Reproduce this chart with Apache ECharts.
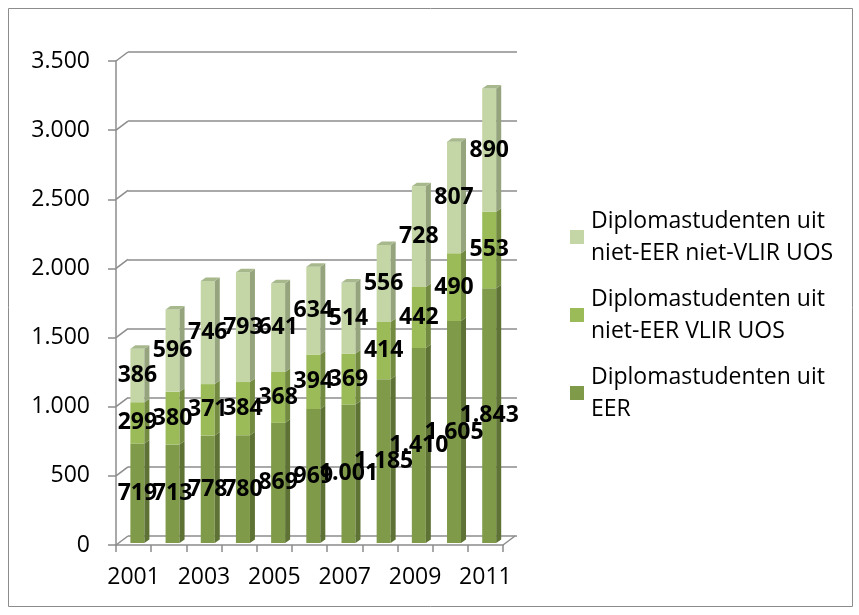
<!DOCTYPE html>
<html>
<head>
<meta charset="utf-8">
<script src="https://cdn.jsdelivr.net/npm/echarts@6/dist/echarts.min.js"></script>
<style>
html,body{margin:0;padding:0;background:#fff;}
#c{width:859px;height:615px;}
</style>
</head>
<body>
<div id="c"></div>
<script>
// ---- data ----
const years = ['2001','2002','2003','2004','2005','2006','2007','2008','2009','2010','2011'];
const eer = [719, 713, 778, 780, 869, 969, 1001, 1185, 1410, 1605, 1843];
const vlir = [299, 380, 371, 384, 368, 394, 369, 414, 442, 490, 553];
const nietVlir = [386, 596, 746, 793, 641, 634, 514, 556, 728, 807, 890];
const yTicks = [0, 500, 1000, 1500, 2000, 2500, 3000, 3500];
const seriesNames = [
  'Diplomastudenten uit EER',
  'Diplomastudenten uit niet-EER VLIR UOS',
  'Diplomastudenten uit niet-EER niet-VLIR UOS'
];
const legendLines = {
  'Diplomastudenten uit EER': 'Diplomastudenten uit\nEER',
  'Diplomastudenten uit niet-EER VLIR UOS': 'Diplomastudenten uit\nniet-EER VLIR UOS',
  'Diplomastudenten uit niet-EER niet-VLIR UOS': 'Diplomastudenten uit\nniet-EER niet-VLIR UOS'
};

const FONT = '"Open Sans", "Liberation Sans", sans-serif';
const GRID_COLOR = '#8c8c8c';
const DEPTH_X = 12, DEPTH_Y = 9;

const palette = [
  {front:'#7f9a48', side:'#5e7235', top:'#6d8540'},
  {front:'#9bbb59', side:'#728b40', top:'#88a54d'},
  {front:'#c5d6a6', side:'#95a47c', top:'#a8b88d'}
];

function fmt(n){
  if (n >= 1000) {
    const r = n % 1000;
    return Math.floor(n/1000) + '.' + String(r).padStart(3,'0');
  }
  return String(n);
}

const stacks = [eer, vlir, nietVlir];
const bases = stacks.map((arr, s) => arr.map((v, i) => {
  let b = 0; for (let k = 0; k < s; k++) b += stacks[k][i]; return b;
}));

function barSeries(s){
  const pal = palette[s];
  const isTop = s === stacks.length - 1;
  return {
    name: seriesNames[s],
    type: 'custom',
    xAxisIndex: 0, yAxisIndex: 0,
    itemStyle: {color: pal.front},
    encode: {x: 0, y: [1, 2]},
    data: stacks[s].map((v, i) => [i, bases[s][i], bases[s][i] + v, v]),
    renderItem: function(params, api){
      const i = api.value(0), b = api.value(1), t = api.value(2), v = api.value(3);
      const pb = api.coord([i, b]);
      const pt = api.coord([i, t]);
      const cx = pb[0];
      const yb = pb[1] - 2, yt = pt[1] - 2;
      const W = 14, D = 5, DY = 3.5;
      const L = cx - 3.2, R = L + W;
      const children = [
        {type:'rect', shape:{x:L, y:yt, width:W, height:yb-yt}, style:{fill:pal.front}},
        {type:'polygon', shape:{points:[[R,yb],[R,yt],[R+D,yt-DY],[R+D,yb-DY]]}, style:{fill:pal.side}}
      ];
      if (isTop) {
        children.push({type:'polygon', shape:{points:[[L,yt],[R,yt],[R+D,yt-DY],[L+D,yt-DY]]}, style:{fill:pal.top}});
      }
      children.push({
        type:'text', z2: 100,
        x: L + W/2, y: (yb + yt)/2,
        style:{text: fmt(v), font:'bold 23px ' + FONT, fill:'#000', align:'center', verticalAlign:'middle'}
      });
      return {type:'group', children: children};
    }
  };
}

const chart = echarts.init(document.getElementById('c'), null, {renderer:'canvas'});
const option = {
  animation: false,
  graphic: [{
    type:'rect', shape:{x:8.5, y:8.5, width:844, height:598},
    style:{fill:'none', stroke:'#8c8c8c', lineWidth:1}, z: -10
  }],
  legend: {
    data: [seriesNames[2], seriesNames[1], seriesNames[0]],
    orient: 'vertical',
    left: 565, top: 184,
    itemWidth: 14, itemHeight: 14, itemGap: -18,
    icon: 'rect',
    formatter: name => legendLines[name],
    textStyle: {fontFamily: FONT, fontSize: 23, color:'#000', lineHeight: 32, padding:[32,0,0,2]},
    selectedMode: false
  },
  grid: [
    {left:116, top:61, width:387, height:484},
    {left:116 + DEPTH_X, top:61 - DEPTH_Y, width:389, height:484}
  ],
  xAxis: [
    {type:'category', gridIndex:0, data: years,
     axisLine:{show:true, lineStyle:{color:GRID_COLOR, width:1.5}},
     axisTick:{show:true, interval:0, length:7, lineStyle:{color:GRID_COLOR, width:1.5}},
     axisLabel:{interval:1, margin:21, fontFamily:FONT, fontSize:23, color:'#000'},
     splitLine:{show:false}},
    {type:'category', gridIndex:1, data: years, show:false}
  ],
  yAxis: [
    {type:'value', gridIndex:0, min:0, max:3500, interval:500,
     axisLine:{show:true, lineStyle:{color:GRID_COLOR, width:1.5}},
     axisTick:{show:true, length:8, lineStyle:{color:GRID_COLOR, width:1.5}},
     axisLabel:{margin:26, fontFamily:FONT, fontSize:23, color:'#000', formatter: v => fmt(v)},
     splitLine:{show:false}},
    {type:'value', gridIndex:1, min:0, max:3500, interval:500,
     axisLine:{show:false}, axisTick:{show:false}, axisLabel:{show:false},
     splitLine:{show:true, lineStyle:{color:GRID_COLOR, width:1.5}}}
  ],
  series: [
    {
      name:'frame', type:'custom', xAxisIndex:0, yAxisIndex:0, silent:true,
      encode:{y:0},
      data: yTicks.map(v => [v]),
      renderItem: function(params, api){
        const v = api.value(0);
        const cs = params.coordSys;
        const y = api.coord([0, v])[1];
        const ls = {stroke:GRID_COLOR, lineWidth:1.5};
        const children = [
          {type:'line', shape:{x1:cs.x, y1:y, x2:cs.x + DEPTH_X, y2:y - DEPTH_Y}, style:ls}
        ];
        if (v === 0) {
          children.push({type:'line', shape:{x1:cs.x + cs.width, y1:y, x2:cs.x + cs.width + DEPTH_X, y2:y - DEPTH_Y}, style:ls});
        }
        return {type:'group', children: children};
      }
    },
    barSeries(0), barSeries(1), barSeries(2)
  ]
};
chart.setOption(option);
</script>
</body>
</html>
